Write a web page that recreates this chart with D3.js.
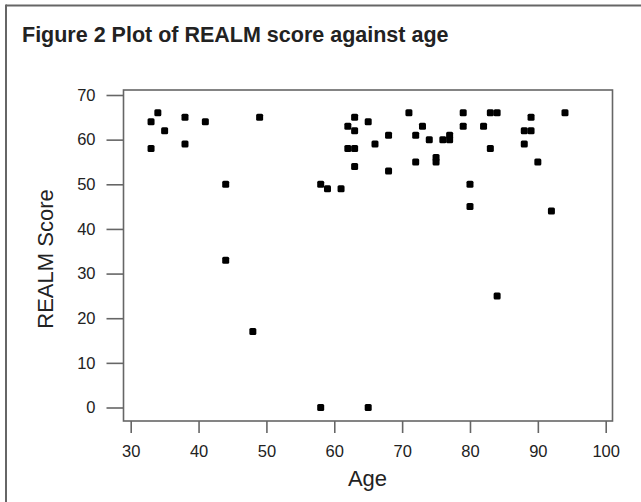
<!DOCTYPE html>
<html>
<head>
  <script src='https://d3js.org/d3.v7.min.js'></script>
  <style>
    body { margin: 0; background: #fff; }
    text { font-family: 'Liberation Sans', Arial, Helvetica, sans-serif; fill: #222; }
  </style>
</head>
<body>
  <svg id="canvas" width="641" height="502"></svg>
  <script>
    // REALM score vs age
    const ages   = [33, 34, 35, 33, 38, 38, 41, 44, 44, 48, 49, 58, 58, 59, 61, 62, 63, 63, 62, 63, 63, 65, 65, 66, 68, 68,
                    71, 72, 72, 73, 74, 75, 75, 76, 77, 77, 79, 79, 80, 80, 82, 83, 84, 83, 84, 88, 89, 89, 88, 90, 92, 94];
    const scores = [64, 66, 62, 58, 65, 59, 64, 50, 33, 17, 65, 50, 0, 49, 49, 63, 65, 62, 58, 58, 54, 64, 0, 59, 61, 53,
                    66, 61, 55, 63, 60, 56, 55, 60, 61, 60, 66, 63, 50, 45, 63, 66, 66, 58, 25, 62, 62, 65, 59, 55, 44, 66];
    const xTicks = [30, 40, 50, 60, 70, 80, 90, 100];
    const yTicks = [0, 10, 20, 30, 40, 50, 60, 70];

    const svg = d3.select('svg#canvas');

    // outer figure frame (top and left edges only)
    svg.append('line')
      .attr('x1', 6).attr('y1', 5.5).attr('x2', 641).attr('y2', 5.5)
      .attr('stroke', '#666').attr('stroke-width', 2);
    svg.append('line')
      .attr('x1', 6).attr('y1', 4.5).attr('x2', 6).attr('y2', 502)
      .attr('stroke', '#666').attr('stroke-width', 2);

    // title
    svg.append('text')
      .attr('x', 22)
      .attr('y', 42)
      .text('Figure 2 Plot of REALM score against age')
      .style('font-size', '21.5px')
      .style('font-weight', 700);

    const box = { left: 123.5, right: 612.5, top: 90, bottom: 421 };

    const xScale = d3.scaleLinear().domain([30, 100]).range([130.7, 605.7]);
    const yScale = d3.scaleLinear().domain([0, 70]).range([407.5, 95]);

    // plot box
    svg.append('rect')
      .attr('x', box.left)
      .attr('y', box.top)
      .attr('width', box.right - box.left)
      .attr('height', box.bottom - box.top)
      .attr('fill', 'none')
      .attr('stroke', '#666')
      .attr('stroke-width', 1.6);

    const xAxis = d3.axisBottom(xScale)
      .tickValues(xTicks)
      .tickSize(12)
      .tickPadding(12)
      .tickFormat(d3.format('d'));
    const yAxis = d3.axisLeft(yScale)
      .tickValues(yTicks)
      .tickSize(17)
      .tickPadding(11)
      .tickFormat(d3.format('d'));

    const gx = svg.append('g')
      .attr('transform', `translate(0, ${box.bottom})`)
      .call(xAxis);
    const gy = svg.append('g')
      .attr('transform', `translate(${box.left}, 0)`)
      .call(yAxis);

    [gx, gy].forEach(g => {
      g.select('.domain').remove();
      g.selectAll('.tick line').attr('stroke', '#666').attr('stroke-width', 1.6);
      g.selectAll('.tick text')
        .attr('fill', '#222')
        .style('font-family', "'Liberation Sans', Arial, Helvetica, sans-serif")
        .style('font-size', '16.5px');
    });

    // points
    svg.append('g')
      .selectAll('rect')
      .data(ages.map((a, i) => ({ age: a, score: scores[i] })))
      .join('rect')
      .attr('x', d => xScale(d.age) - 3.5)
      .attr('y', d => yScale(d.score) - 3.5)
      .attr('width', 7)
      .attr('height', 7)
      .attr('rx', 1.5)
      .attr('fill', '#000');

    // axis titles
    svg.append('text')
      .attr('text-anchor', 'middle')
      .attr('x', 367.5)
      .attr('y', 486)
      .text('Age')
      .style('font-size', '22px');

    svg.append('text')
      .attr('text-anchor', 'middle')
      .attr('transform', 'translate(53, 259) rotate(-90)')
      .text('REALM Score')
      .style('font-size', '22px');
  </script>
</body>
</html>
